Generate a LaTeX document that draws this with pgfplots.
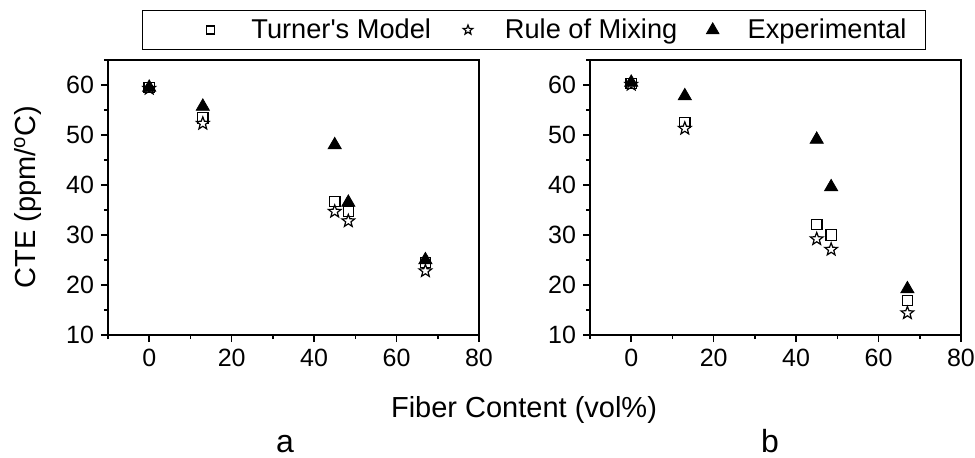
\documentclass[border=0pt]{standalone}
\usepackage{fontspec}
\setmainfont{Liberation Sans}
\usepackage{pgfplots}
\pgfplotsset{compat=1.18}

% outlined five-pointed star
\pgfdeclareplotmark{ostar}{%
  \pgfpathmoveto{\pgfpointpolar{90}{\pgfplotmarksize}}%
  \pgfpathlineto{\pgfpointpolar{126}{0.42\pgfplotmarksize}}%
  \pgfpathlineto{\pgfpointpolar{162}{\pgfplotmarksize}}%
  \pgfpathlineto{\pgfpointpolar{198}{0.42\pgfplotmarksize}}%
  \pgfpathlineto{\pgfpointpolar{234}{\pgfplotmarksize}}%
  \pgfpathlineto{\pgfpointpolar{270}{0.42\pgfplotmarksize}}%
  \pgfpathlineto{\pgfpointpolar{306}{\pgfplotmarksize}}%
  \pgfpathlineto{\pgfpointpolar{342}{0.42\pgfplotmarksize}}%
  \pgfpathlineto{\pgfpointpolar{18}{\pgfplotmarksize}}%
  \pgfpathlineto{\pgfpointpolar{54}{0.42\pgfplotmarksize}}%
  \pgfpathclose
  \pgfusepathqfillstroke
}

\pgfplotsset{
  panel/.style={
    width=185.5pt, height=137.5pt, scale only axis,
    anchor=south west,
    xmin=-10, xmax=80, ymin=10, ymax=65,
    xtick={0,20,...,80}, minor xtick={-10,10,30,50,70},
    ytick={10,20,...,60}, minor ytick={15,25,...,65},
    tick align=outside, xtick pos=bottom, ytick pos=left,
    major tick length=3.5pt, minor tick length=2pt,
    axis line style={line width=0.8pt},
    major tick style={black, line width=0.8pt},
    minor tick style={black, line width=0.8pt},
    tick label style={font=\fontsize{12.5}{15}\selectfont},
    /pgf/number format/assume math mode=true,
    clip=false,
  },
  % legend image: one mark, with blank room #1 on the left, #2 on the right
  legimg/.style 2 args={legend image code/.code={%
    \draw[only marks, ##1] plot coordinates {(0pt,0pt)};
    \path[draw=none, fill=none] (-#1,0pt) -- (#2,0pt);}},
  turner/.style={only marks, mark=square*, mark size=2.6pt,
    mark options={fill=white, draw=black, line width=0.6pt},
    legend image post style={mark size=2pt},
    legimg={26.5pt}{18.5pt}},
  rule/.style={only marks, mark=ostar, mark size=3.3pt,
    mark options={fill=white, draw=black, line width=0.6pt},
    legend image post style={mark size=2.5pt},
    legimg={16.5pt}{16.5pt}},
  expt/.style={only marks, mark=triangle*, mark size=3.8pt,
    mark options={fill=black, draw=black, line width=0.4pt},
    legend image post style={mark size=3.6pt},
    legimg={15.7pt}{15.5pt}},
}

\begin{document}
\begin{tikzpicture}[x=1pt,y=1pt]
\begin{axis}[panel, at={(54pt,61pt)},
    legend columns=3,
    legend style={at={(1.1482,1.109)}, anchor=center,
      draw=black, line width=0.6pt, inner xsep=7.5pt, inner ysep=2.5pt,
      font=\fontsize{13.6}{16}\selectfont,
      nodes={inner ysep=1.5pt},
      /tikz/every odd column/.append style={column sep=0pt},
      /tikz/every even column/.append style={column sep=0pt}},
  ]
\addplot[turner]
  coordinates {(0,59.5)(13,53.4)(45,36.7)(48.3,34.7)(67,24.5)};
\addlegendentry{Turner\textquotesingle s Model}
\addplot[rule] coordinates {(0,59.3)(13,52.3)(45,34.7)(48.3,32.8)(67,22.8)};
\addlegendentry{Rule of Mixing}
\addplot[expt] coordinates {(0,59.5)(13,55.7)(45,48.0)(48.3,36.5)(67,25.0)};
\addlegendentry{Experimental}
\end{axis}

\begin{axis}[panel, at={(295pt,61pt)}]
\addplot[turner] coordinates {(0,60.3)(13,52.5)(45,32.1)(48.5,30.0)(67,16.9)};
\addplot[rule] coordinates {(0,60.1)(13,51.3)(45,29.2)(48.5,27.1)(67,14.4)};
\addplot[expt] coordinates {(0,60.5)(13,57.8)(45,49.1)(48.5,39.6)(67,19.2)};
\end{axis}

\node[rotate=90, font=\fontsize{14.5}{17}\selectfont] at (14,130)
  {CTE (ppm/\textsuperscript{o}C)};
\node[anchor=base, font=\fontsize{14.5}{17}\selectfont] at (262,20)
  {Fiber Content (vol\%)};
\node[anchor=base, font=\fontsize{16}{18}\selectfont] at (142.5,2.5) {a};
\node[anchor=base, font=\fontsize{16}{18}\selectfont] at (385,2.5) {b};

\pgfresetboundingbox
\path (0,0) rectangle (487.5,228.5);
\end{tikzpicture}
\end{document}
